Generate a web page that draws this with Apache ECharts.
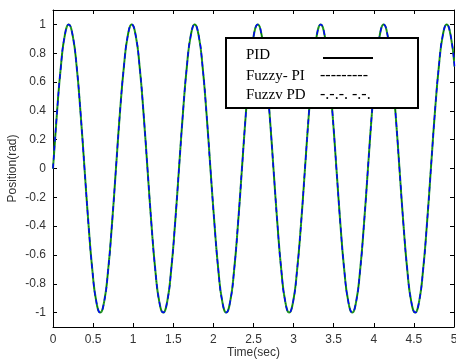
<!DOCTYPE html>
<html>
<head>
<meta charset="utf-8">
<script src="https://cdn.jsdelivr.net/npm/echarts@6/dist/echarts.min.js"></script>
<style>html,body{margin:0;padding:0;background:#fff;}#c{width:456px;height:360px;}</style>
</head>
<body>
<div id="c"></div>
<script>
var times = [0,0.049,0.098,0.147,0.196,0.245,0.295,0.344,0.393,0.442,0.491,0.540,0.589,0.638,0.687,0.736,
0.785,0.834,0.884,0.933,0.982,1.031,1.080,1.129,1.178,1.227,1.276,1.325,1.374,1.424,1.473,1.522,
1.571,1.620,1.669,1.718,1.767,1.816,1.865,1.914,1.963,2.013,2.062,2.111,2.160,2.209,2.258,2.307,
2.356,2.405,2.454,2.503,2.553,2.602,2.651,2.700,2.749,2.798,2.847,2.896,2.945,2.994,3.043,3.093,
3.142,3.191,3.240,3.289,3.338,3.387,3.436,3.485,3.534,3.583,3.632,3.682,3.731,3.780,3.829,3.878,
3.927,3.976,4.025,4.074,4.123,4.172,4.222,4.271,4.320,4.369,4.418,4.467,4.516,4.565,4.614,4.663,
4.712,4.761,4.811,4.860,4.909,4.958,5.007];
var position = [0,0.383,0.707,0.924,1,0.924,0.707,0.383,0,-0.383,-0.707,-0.924,-1,-0.924,-0.707,-0.383,
0,0.383,0.707,0.924,1,0.924,0.707,0.383,0,-0.383,-0.707,-0.924,-1,-0.924,-0.707,-0.383,
0,0.383,0.707,0.924,1,0.924,0.707,0.383,0,-0.383,-0.707,-0.924,-1,-0.924,-0.707,-0.383,
0,0.383,0.707,0.924,1,0.924,0.707,0.383,0,-0.383,-0.707,-0.924,-1,-0.924,-0.707,-0.383,
0,0.383,0.707,0.924,1,0.924,0.707,0.383,0,-0.383,-0.707,-0.924,-1,-0.924,-0.707,-0.383,
0,0.383,0.707,0.924,1,0.924,0.707,0.383,0,-0.383,-0.707,-0.924,-1,-0.924,-0.707,-0.383,
0,0.383,0.707,0.924,1,0.924,0.707];
var pidValues = position;
var fuzzyPIValues = position;
var fuzzyPDValues = position;
var seriesNames = ['PID', 'Fuzzy- PI', 'Fuzzv PD'];
var legendSamples = ['', '---------', '-.-.-. -.-.'];
var yTicks = [-1,-0.8,-0.6,-0.4,-0.2,0,0.2,0.4,0.6,0.8,1];

function pairs(v){ return times.map(function(t,i){ return [t, v[i]]; }); }

var chart = echarts.init(document.getElementById('c'), null, {renderer:'canvas'});
var lbl = {fontFamily:'Liberation Sans, Arial', fontSize:12, color:'#333'};
var serif = 'Liberation Serif, Times New Roman, serif';
chart.setOption({
  animation:false,
  backgroundColor:'#fff',
  grid:{left:53, top:10, right:2, bottom:33, containLabel:false, outerBoundsMode:'none'},
  xAxis:[{
    type:'value', min:0, max:5, interval:0.5,
    axisLine:{onZero:false, lineStyle:{color:'#000', width:1}},
    axisTick:{inside:true, length:4, lineStyle:{color:'#000'}},
    axisLabel:Object.assign({margin:7, formatter:function(v){return String(v);}}, lbl),
    splitLine:{show:false},
    name:'Time(sec)', nameLocation:'middle', nameGap:20, nameMoveOverlap:false,
    nameTextStyle:{fontFamily:'Liberation Sans, Arial', fontSize:12, color:'#333'}
  },{
    type:'value', position:'top', min:0, max:5, interval:0.5,
    axisLine:{onZero:false, lineStyle:{color:'#000', width:1}},
    axisTick:{inside:true, length:4, lineStyle:{color:'#000'}},
    axisLabel:{show:false}, splitLine:{show:false}
  }],
  yAxis:[{
    type:'value', min:-1.1, max:1.1,
    axisLine:{show:true, onZero:false, lineStyle:{color:'#000', width:1}},
    axisTick:{show:true, inside:true, length:4, customValues:yTicks, lineStyle:{color:'#000'}},
    axisLabel:Object.assign({margin:7, customValues:yTicks, formatter:function(v){return String(Math.round(v*10)/10);}}, lbl),
    splitLine:{show:false},
    name:'Position(rad)', nameLocation:'middle', nameGap:34, nameRotate:90, nameMoveOverlap:false,
    nameTextStyle:{fontFamily:'Liberation Sans, Arial', fontSize:12, color:'#333'}
  },{
    type:'value', position:'right', min:-1.1, max:1.1,
    axisLine:{show:true, onZero:false, lineStyle:{color:'#000', width:1}},
    axisTick:{show:true, inside:true, length:4, customValues:yTicks, lineStyle:{color:'#000'}},
    axisLabel:{show:false}, splitLine:{show:false}
  }],
  series:[
    {name:seriesNames[0], type:'line', data:pairs(pidValues), smooth:true, showSymbol:false, clip:true,
     lineStyle:{color:'#2a9a2a', width:2}, z:2},
    {name:seriesNames[2], type:'line', data:pairs(fuzzyPDValues), smooth:true, showSymbol:false, clip:true,
     lineStyle:{color:'#007a00', width:1, type:[6,2,1,2]}, z:3},
    {name:seriesNames[1], type:'line', data:pairs(fuzzyPIValues), smooth:true, showSymbol:false, clip:true,
     lineStyle:{color:'#0000ff', width:1.5, type:[5,4]}, z:4}
  ],
  graphic:[
    {type:'rect', shape:{x:226, y:38, width:192, height:70}, style:{fill:'#fff', stroke:'#000', lineWidth:2}, z:100},
    {type:'text', x:246, y:55, style:{text:seriesNames[0], font:'15px '+serif, fill:'#000', verticalAlign:'middle'}, z:101},
    {type:'text', x:246, y:76, style:{text:seriesNames[1], font:'15px '+serif, fill:'#000', verticalAlign:'middle'}, z:101},
    {type:'text', x:246, y:95, style:{text:seriesNames[2], font:'15px '+serif, fill:'#000', verticalAlign:'middle'}, z:101},
    {type:'line', shape:{x1:323, y1:58, x2:373, y2:58}, style:{stroke:'#000', lineWidth:2}, z:101},
    {type:'text', x:320, y:76, style:{text:legendSamples[1], font:'16px '+serif, fill:'#000', verticalAlign:'middle'}, z:101},
    {type:'text', x:320, y:95, style:{text:legendSamples[2], font:'16px '+serif, fill:'#000', verticalAlign:'middle'}, z:101}
  ]
});
</script>
</body>
</html>
